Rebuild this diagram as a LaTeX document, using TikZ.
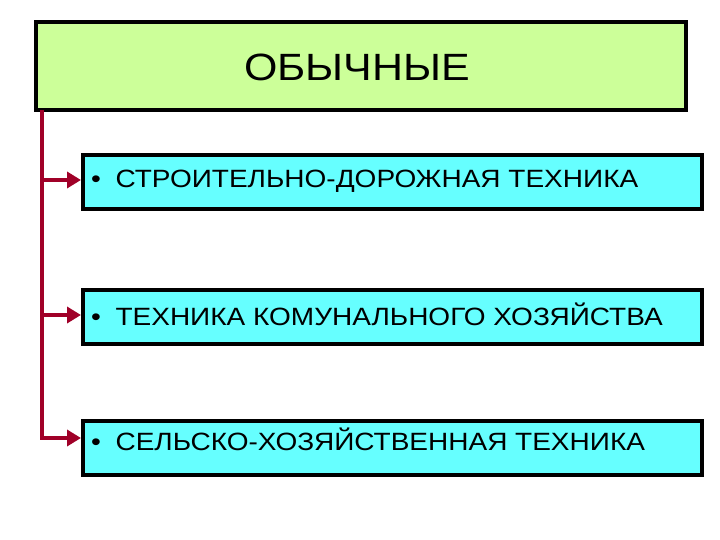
\documentclass[tikz,border=0pt]{standalone}
\usepackage{fontspec}
\setmainfont{Liberation Sans}
\usetikzlibrary{arrows.meta}
\definecolor{topgreen}{RGB}{204,255,153}
\definecolor{itemcyan}{RGB}{102,255,255}
\definecolor{linkred}{RGB}{160,0,40}
\newcommand{\itemline}[1]{\scalebox{1.12}[1]{•\hspace{13pt}#1}}
\begin{document}
\begin{tikzpicture}[x=1pt,y=-1pt,
  topbox/.style={draw=black,line width=4pt,fill=topgreen,minimum width=650pt,minimum height=88pt,inner sep=0pt},
  itembox/.style={draw=black,line width=4pt,fill=itemcyan,minimum width=619pt,minimum height=54pt,inner sep=0pt,anchor=west},
  itemtext/.style={font=\fontsize{25}{28}\selectfont,anchor=west,inner sep=0pt},
  link/.style={draw=linkred,line width=3.5pt},
  linkarrow/.style={link,-{Triangle[length=14pt,width=16pt]}}]
\useasboundingbox (0,0) rectangle (720,540);
\node[topbox] (top) at (360.5,66) {};
\node[font=\fontsize{38}{42}\selectfont] (title) at (357,67) {\scalebox{1.13}[1]{ОБЫЧНЫЕ}};
\node[itembox] (b1) at (81,182) {};
\node[itembox] (b2) at (81,317) {};
\node[itembox] (b3) at (81,448) {};
\node[itemtext] (t1) at (91,181) {\itemline{СТРОИТЕЛЬНО-ДОРОЖНАЯ ТЕХНИКА}};
\node[itemtext] (t2) at (91,314) {\itemline{ТЕХНИКА КОМУНАЛЬНОГО ХОЗЯЙСТВА}};
\node[itemtext] (t3) at (91,439) {\itemline{СЕЛЬСКО-ХОЗЯЙСТВЕННАЯ ТЕХНИКА}};
\coordinate (s) at (42,110);
\coordinate (j1) at (42,180);
\coordinate (j2) at (42,315);
\coordinate (j3) at (42,438);
\draw[link] (s) -- (j3);
\draw[linkarrow] (j1) -- (j1 -| b1.west);
\draw[linkarrow] (j2) -- (j2 -| b2.west);
\draw[linkarrow] ([xshift=-1.75pt]j3) -- (j3 -| b3.west);
\end{tikzpicture}
\end{document}
